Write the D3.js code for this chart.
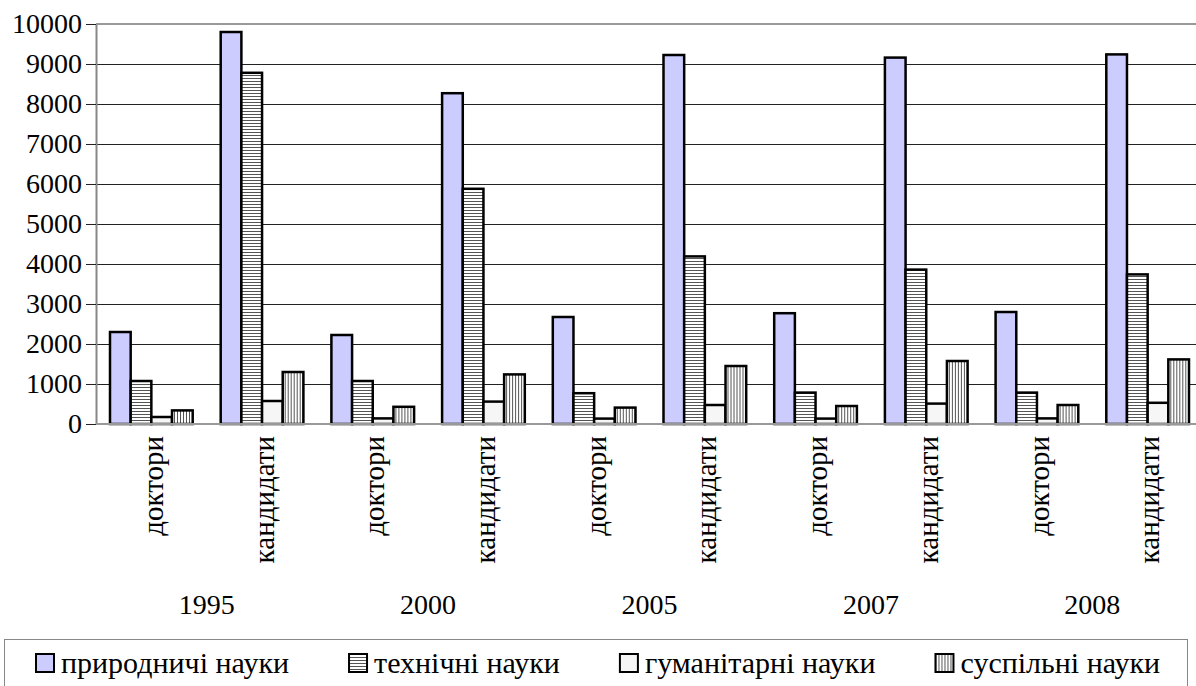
<!DOCTYPE html>
<html>
  <head>
    <meta charset="utf-8">
    <title>Доктори і кандидати наук за галузями</title>
    <script src="https://cdn.jsdelivr.net/npm/d3@7"></script>
    <style>
      body { margin: 0; background: #fff; }
      svg { display: block; }
      svg text { font-family: "Liberation Serif", "Times New Roman", "DejaVu Serif", serif !important; }
    </style>
  </head>

  <body>
    <svg id="chart" width="1196" height="686"></svg>

    <script>
      // data
      const years = ["1995", "2000", "2005", "2007", "2008"];
      const levels = ["доктори", "кандидати"];
      const series = ["природничі науки", "технічні науки", "гуманітарні науки", "суспільні науки"];
      const natural = [2300, 9800, 2225, 8270, 2675, 9225, 2770, 9160, 2800, 9240];
      const technical = [1075, 8780, 1075, 5880, 770, 4190, 785, 3860, 785, 3740];
      const humanities = [175, 575, 140, 560, 135, 475, 135, 510, 140, 530];
      const social = [340, 1300, 430, 1240, 410, 1450, 450, 1575, 475, 1615];
      const yTicks = [0, 1000, 2000, 3000, 4000, 5000, 6000, 7000, 8000, 9000, 10000];

      const values = [natural, technical, humanities, social];
      const fills = ["#ccccff", "url(#hLines)", "#f6f6f6", "url(#vLines)"];
      const serif = "Liberation Serif, Times New Roman, serif";

      // categories: every year has doctors and candidates
      let categories = [];
      years.forEach(function(yr) {
        levels.forEach(function(l) {
          categories.push(yr + "|" + l);
        });
      });

      let svg = d3.select("#chart");
      let defs = svg.append("defs");

      // hatch patterns
      let hLines = defs.append("pattern")
        .attr("id", "hLines")
        .attr("patternUnits", "userSpaceOnUse")
        .attr("width", 4)
        .attr("height", 3);
      hLines.append("rect").attr("width", 4).attr("height", 3).attr("fill", "#fff");
      hLines.append("rect").attr("width", 4).attr("height", 1).attr("fill", "#555");

      let vLines = defs.append("pattern")
        .attr("id", "vLines")
        .attr("patternUnits", "userSpaceOnUse")
        .attr("width", 3)
        .attr("height", 4);
      vLines.append("rect").attr("width", 3).attr("height", 4).attr("fill", "#fff");
      vLines.append("rect").attr("width", 1).attr("height", 4).attr("fill", "#555");

      // scales
      const plotLeft = 96;
      const plotTop = 24;
      const plotBottom = 424;
      const plotWidth = 1107;

      let x0 = d3.scaleBand()
        .domain(categories)
        .range([plotLeft, plotLeft + plotWidth]);
      let x1 = d3.scaleBand()
        .domain(series)
        .range([14, x0.bandwidth() - 14]);
      let y = d3.scaleLinear()
        .domain([0, 10000])
        .range([plotBottom, plotTop]);

      // gridlines
      svg.append("g")
        .selectAll("line")
        .data(yTicks.slice(1, -1))
        .join("line")
          .attr("x1", plotLeft)
          .attr("x2", plotLeft + plotWidth)
          .attr("y1", function(d) { return y(d); })
          .attr("y2", function(d) { return y(d); })
          .attr("stroke", "#222")
          .attr("stroke-width", 1)
          .attr("shape-rendering", "crispEdges");

      // plot border top
      svg.append("line")
        .attr("x1", plotLeft)
        .attr("x2", plotLeft + plotWidth)
        .attr("y1", plotTop)
        .attr("y2", plotTop)
        .attr("stroke", "#999")
        .attr("stroke-width", 2);

      // y axis
      let yAxis = d3.axisLeft(y)
        .tickValues(yTicks)
        .tickFormat(d3.format("d"))
        .tickSize(10)
        .tickPadding(4)
        .tickSizeOuter(0);
      let yGroup = svg.append("g")
        .attr("transform", "translate(" + plotLeft + ",0)")
        .call(yAxis)
        .attr("font-family", serif)
        .attr("font-size", 28);
      yGroup.select(".domain")
        .attr("stroke", "#888")
        .attr("stroke-width", 2);
      yGroup.selectAll(".tick line")
        .attr("stroke", "#222")
        .attr("shape-rendering", "crispEdges");
      yGroup.selectAll(".tick text")
        .attr("fill", "#000");

      // bars
      let groups = svg.append("g")
        .selectAll("g")
        .data(categories)
        .join("g")
          .attr("transform", function(d) { return "translate(" + x0(d) + ",0)"; });

      groups.selectAll("rect")
        .data(function(d, i) {
          return series.map(function(s, j) {
            return { series: s, value: values[j][i], fill: fills[j] };
          });
        })
        .join("rect")
          .attr("x", function(d) { return x1(d.series); })
          .attr("width", x1.bandwidth())
          .attr("y", function(d) { return y(d.value); })
          .attr("height", function(d) { return plotBottom - y(d.value); })
          .attr("fill", function(d) { return d.fill; })
          .attr("stroke", "#000")
          .attr("stroke-width", 2.5);

      // x axis line
      svg.append("line")
        .attr("x1", plotLeft)
        .attr("x2", plotLeft + plotWidth)
        .attr("y1", plotBottom)
        .attr("y2", plotBottom)
        .attr("stroke", "#999")
        .attr("stroke-width", 2);

      // category labels (rotated)
      svg.append("g")
        .attr("font-family", serif)
        .selectAll("text")
        .data(categories)
        .join("text")
          .attr("transform", function(d) {
            return "translate(" + (x0(d) + x0.bandwidth() / 2) + "," + 436 + ") rotate(-90)";
          })
          .attr("dy", "0.4em")
          .attr("text-anchor", "end")
          .attr("font-size", 29)
          .text(function(d) { return d.split("|")[1]; });

      // year labels
      svg.append("g")
        .attr("font-family", serif)
        .selectAll("text")
        .data(years)
        .join("text")
          .attr("x", function(d) { return x0(d + "|" + levels[1]); })
          .attr("y", 614)
          .attr("text-anchor", "middle")
          .attr("font-size", 28)
          .text(function(d) { return d; });

      // legend
      svg.append("rect")
        .attr("x", 4.5)
        .attr("y", 639.5)
        .attr("width", 1183)
        .attr("height", 80)
        .attr("fill", "none")
        .attr("stroke", "#888")
        .attr("stroke-width", 1);

      let legendX = 36;
      series.forEach(function(s, j) {
        let item = svg.append("g")
          .attr("transform", "translate(" + legendX + ",0)");
        item.append("rect")
          .attr("x", 0)
          .attr("y", 654)
          .attr("width", 18)
          .attr("height", 18)
          .attr("fill", fills[j])
          .attr("stroke", "#000")
          .attr("stroke-width", 2);
        let label = item.append("text")
          .attr("x", 25)
          .attr("y", 673)
          .attr("font-family", serif)
          .attr("font-size", 30)
          .text(s);
        legendX = legendX + 25 + label.node().getComputedTextLength() + 60;
      });
    </script>
  </body>
</html>
